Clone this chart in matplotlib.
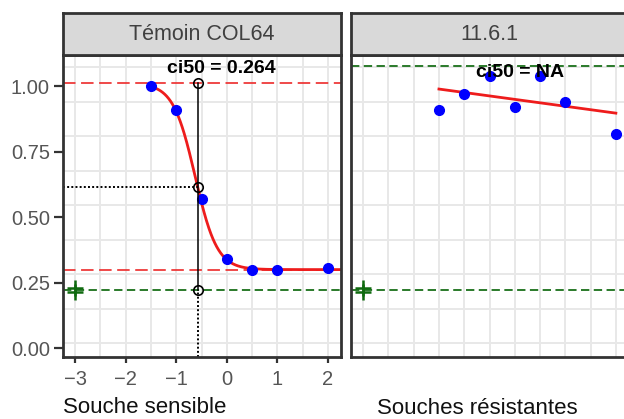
import numpy as np
import matplotlib
matplotlib.use("Agg")
import matplotlib.pyplot as plt

plt.rcParams['font.family'] = ['Liberation Sans', 'DejaVu Sans']
plt.rcParams['lines.scale_dashes'] = False

# --- Témoin COL64 (souche sensible): log10(dose) vs relative growth ---
sens_logdose = [-1.5, -1.0, -0.5, 0.0, 0.5, 1.0, 2.0]
sens_resp = [1.00, 0.91, 0.57, 0.34, 0.30, 0.30, 0.305]
sens_ctrl = [0.231, 0.214]          # untreated controls, shown at log dose -3
sens_top = 1.012                    # upper asymptote of the fitted curve
sens_bottom = 0.30                  # lower asymptote of the fitted curve
sens_hill = 2.0
sens_ci50 = 0.264

# --- 11.6.1 (souche résistante) ---
res_logdose = [-1.5, -1.0, -0.5, 0.0, 0.5, 1.0, 2.0]
res_resp = [0.91, 0.97, 1.04, 0.92, 1.04, 0.94, 0.82]
res_ctrl = [0.230, 0.213]
res_upper_ref = 1.077

ctrl_logdose = -3
facet_titles = ["Témoin COL64", "11.6.1"]
group_labels = ["Souche sensible", "Souches résistantes"]
x_ticks = [-3, -2, -1, 0, 1, 2]
y_ticks = [0.0, 0.25, 0.50, 0.75, 1.00]
y_ticklabels = ["0.00", "0.25", "0.50", "0.75", "1.00"]

# colours / styles
RED = "#EE1C1C"
RED_DASH = "#EE3A3A"
BLUE = "#0000FF"
GREEN = "#2A7A2A"
GREEN_MARK = "#0F6A0F"
GRID = "#E8E8E8"
FRAME = "#333333"
TICKTXT = "#555555"

W, H = 624, 419
fig = plt.figure(figsize=(W / 100, H / 100), dpi=100)


def px_axes(x0, y0, x1, y1):
    return fig.add_axes([x0 / W, 1 - y1 / H, (x1 - x0) / W, (y1 - y0) / H])


XLIM = (-3.25, 2.25)
YLIM = (-0.034, 1.12)
grid_x = np.arange(-3, 2.01, 0.5)
grid_y = np.linspace(0.019, 1.074, 9)


def style_panel(ax):
    ax.set_xlim(*XLIM)
    ax.set_ylim(*YLIM)
    ax.set_facecolor("white")
    for gx in grid_x:
        ax.axvline(gx, color=GRID, lw=1.4, zorder=0)
    for gy in grid_y:
        ax.axhline(gy, color=GRID, lw=1.4, zorder=0)
    for s in ax.spines.values():
        s.set_color(FRAME)
        s.set_linewidth(2.0)
        s.set_zorder(10)


def strip(ax, title):
    ax.set_facecolor("#D9D9D9")
    ax.set_xticks([])
    ax.set_yticks([])
    for s in ax.spines.values():
        s.set_color(FRAME)
        s.set_linewidth(2.0)
    ax.text(0.5, 0.5, title, transform=ax.transAxes, ha="center", va="center",
            fontsize=15.5, color="#404040")


ax1 = px_axes(62.5, 55, 340.5, 357)
ax2 = px_axes(350.5, 55, 628.5, 357)
st1 = px_axes(62.5, 13, 340.5, 55)
st2 = px_axes(350.5, 13, 628.5, 55)
strip(st1, facet_titles[0])
strip(st2, facet_titles[1])
style_panel(ax1)
style_panel(ax2)

red_dash = (0, (9, 4))
green_dash = (0, (6, 3.2))
dot = (0, (1.4, 1.6))

# ---------------- left panel: sensitive strain ----------------
sens_ctrl_level = float(np.mean(sens_ctrl))
log_ci50 = np.log10(sens_ci50)
mid_level = (sens_top + sens_ctrl_level) / 2
# position of the logistic inflection so that the curve crosses mid_level at log10(ci50)
x50 = log_ci50 - np.log10((sens_top - sens_bottom) / (mid_level - sens_bottom) - 1) / sens_hill
xc = np.linspace(min(sens_logdose), XLIM[1] + 0.1, 300)
yc = sens_bottom + (sens_top - sens_bottom) / (1 + 10 ** (sens_hill * (xc - x50)))

ax1.axhline(sens_top, color=RED_DASH, lw=1.3, ls=red_dash, zorder=2)
ax1.axhline(sens_bottom, color=RED_DASH, lw=1.3, ls=red_dash, zorder=2)
ax1.axhline(sens_ctrl_level, color=GREEN, lw=1.4, ls=green_dash, zorder=2)
ax1.plot(xc, yc, color=RED, lw=2.0, zorder=3)
ax1.plot(sens_logdose, sens_resp, "o", color=BLUE, ms=7, mec=BLUE, zorder=4)

# ci50 construction lines
ax1.plot([log_ci50, log_ci50], [sens_ctrl_level, sens_top], color="black", lw=1.1, zorder=5)
ax1.plot([log_ci50, log_ci50], [YLIM[0], sens_ctrl_level], color="black", lw=1.4, ls=dot, zorder=5)
ax1.plot([XLIM[0], log_ci50], [mid_level, mid_level], color="black", lw=1.4, ls=dot, zorder=5)
ax1.plot([log_ci50] * 3, [sens_top, mid_level, sens_ctrl_level], "o", ms=6.8,
         mfc="none", mec="black", mew=1.2, zorder=6)
ax1.plot([ctrl_logdose] * len(sens_ctrl), sens_ctrl, "+", color=GREEN_MARK, ms=12, mew=1.8, zorder=6)
ax1.text(-0.1, 1.067, f"ci50 = {sens_ci50}", ha="center", va="center",
         fontsize=14, fontweight="bold", color="black", zorder=7)

ax1.set_xticks(x_ticks)
ax1.set_xticklabels([f"{t}".replace("-", "\u2212") for t in x_ticks])
ax1.set_yticks(y_ticks)
ax1.set_yticklabels(y_ticklabels)
ax1.tick_params(axis="y", length=6.5, width=1.6, color=FRAME, pad=2.5,
                labelsize=14.5, labelcolor=TICKTXT)
ax1.tick_params(axis="x", length=4.5, width=1.6, color=FRAME, pad=4.5,
                labelsize=14.5, labelcolor=TICKTXT)

# ---------------- right panel: resistant strain ----------------
res_ctrl_level = float(np.mean(res_ctrl))
slope, intercept = np.polyfit(res_logdose, res_resp, 1)
xl = np.array([min(res_logdose), max(res_logdose)])

ax2.axhline(res_upper_ref, color=GREEN, lw=1.4, ls=green_dash, zorder=2)
ax2.axhline(res_ctrl_level, color=GREEN, lw=1.4, ls=green_dash, zorder=2)
ax2.plot(xl, slope * xl + intercept, color=RED, lw=2.0, zorder=3)
ax2.plot(res_logdose, res_resp, "o", color=BLUE, ms=7, mec=BLUE, zorder=4)
ax2.plot([ctrl_logdose] * len(res_ctrl), res_ctrl, "+", color=GREEN_MARK, ms=12, mew=1.8, zorder=6)
ax2.text(0.1, 1.055, "ci50 = NA", ha="center", va="center",
         fontsize=14, fontweight="bold", color="black", zorder=7)
ax2.set_xticks([])
ax2.set_yticks([])

# group captions under each panel
fig.text(63 / W, 1 - 413 / H, group_labels[0], ha="left", va="baseline",
         fontsize=16, color="#111111")
fig.text(377 / W, 1 - 414 / H, group_labels[1], ha="left", va="baseline",
         fontsize=16, color="#111111")

fig.savefig("out.png", dpi=100, facecolor="white")
